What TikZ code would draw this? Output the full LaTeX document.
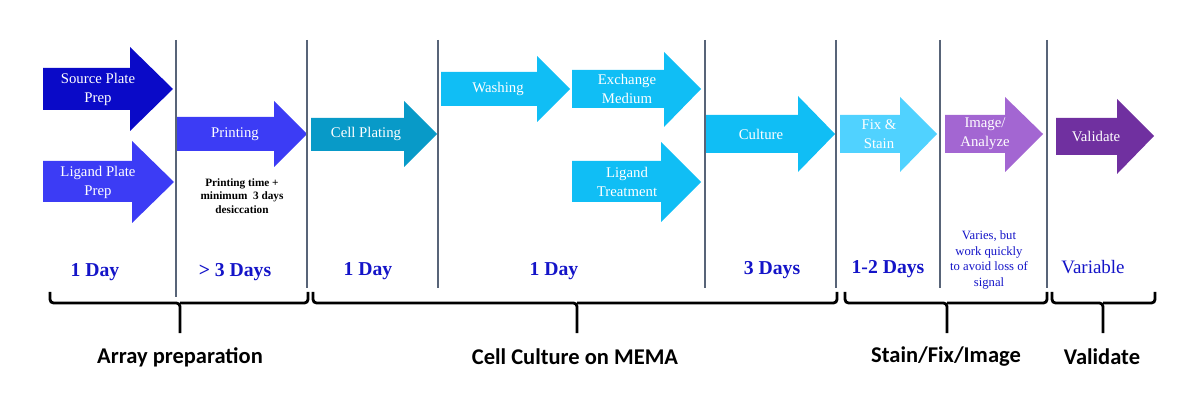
\documentclass[tikz,border=0pt]{standalone}
\usepackage{fontspec}
\setmainfont{Liberation Serif}
\newfontfamily\phasefont{Carlito}
\usetikzlibrary{calc}

\definecolor{srcblue}{RGB}{10,10,200}
\definecolor{ligblue}{RGB}{60,60,245}
\definecolor{plateteal}{RGB}{8,154,200}
\definecolor{washcyan}{RGB}{16,190,245}
\definecolor{fixcyan}{RGB}{80,210,255}
\definecolor{imgpurple}{RGB}{163,102,210}
\definecolor{valpurple}{RGB}{112,48,160}
\definecolor{dayblue}{RGB}{20,20,200}
\definecolor{divgray}{RGB}{88,100,120}

\begin{document}
\begin{tikzpicture}[x=0.025cm,y=-0.025cm,
  steplabel/.style={white,align=center,font=\fontsize{10.5}{13.5}\selectfont},
  daylabel/.style={text=dayblue,font=\bfseries\fontsize{14}{16}\selectfont},
  phaselabel/.style={font=\phasefont\bfseries\fontsize{16}{18}\selectfont},
  divider/.style={draw=divgray,line width=1.2pt},
  bracket/.style={black,line width=2pt,rounded corners=2.5pt}]
\useasboundingbox (0,0) rectangle (1200,418);

%arrow #1 source plate
\fill[srcblue](43,68)--(130,68)--(130,47)--(173,89)--(130,131)--(130,110)--(43,110)--cycle;
\node[steplabel] (src) at (98,89) {Source Plate\\Prep};
%arrow #2 ligand plate
\fill[ligblue](43,161)--(132,161)--(132,141)--(174,182)--(132,223)--(132,202)--(43,202)--cycle;
\node[steplabel] (lig) at (98,182) {Ligand Plate\\Prep};
%arrow #3 printing
\fill[ligblue](177,117)--(274,117)--(274,101)--(307,134)--(274,167)--(274,151)--(177,151)--cycle;
\node[steplabel] (print) at (235,134) {Printing};
\node[align=center,font=\bfseries\fontsize{8}{9.6}\selectfont] (printnote) at (242,196) {Printing time +\\minimum~ 3 days\\desiccation};
%arrow #4 cell plating
\fill[plateteal](311,118)--(404,118)--(404,101)--(437,134)--(404,167)--(404,151)--(311,151)--cycle;
\node[steplabel] (plate) at (366,134) {Cell Plating};
%arrow #5 washing
\fill[washcyan](441,72)--(537,72)--(537,56)--(570,89)--(537,122)--(537,106)--(441,106)--cycle;
\node[steplabel] (wash) at (498,89) {Washing};
%arrow #6 exchange medium
\fill[washcyan](572,70)--(664,70)--(664,52)--(701,89)--(664,127)--(664,108)--(572,108)--cycle;
\node[steplabel] (exch) at (627,89) {Exchange\\Medium};
%arrow #7 ligand treatment
\fill[washcyan](572,161)--(661,161)--(661,142)--(701,182)--(661,222)--(661,202)--(572,202)--cycle;
\node[steplabel] (treat) at (627,182) {Ligand\\Treatment};
%arrow #8 culture
\fill[washcyan](706,115)--(798,115)--(798,96)--(835,134)--(798,172)--(798,153)--(706,153)--cycle;
\node[steplabel] (cult) at (761,134) {Culture};
%arrow #9 fix & stain
\fill[fixcyan](840,115)--(900,115)--(900,97)--(937,134)--(900,172)--(900,153)--(840,153)--cycle;
\node[steplabel] (fix) at (879,134) {Fix \&\\Stain};
%arrow #10 image
\fill[imgpurple](945,115)--(1005,115)--(1005,97)--(1043,134)--(1005,172)--(1005,153)--(945,153)--cycle;
\node[steplabel] (img) at (985,134) {Image/\\Analyze};
%arrow #11 validate
\fill[valpurple](1056,118)--(1117,118)--(1117,99)--(1154,136)--(1117,174)--(1117,155)--(1056,155)--cycle;
\node[steplabel] (val) at (1096,136) {Validate};

%dividers
\draw[divider](176,40)--(176,297);
\foreach \x in {307,438,705,836,940,1047}
  \draw[divider](\x,40)--(\x,288);

%days
\node[daylabel] (d1) at (95,272) {1 Day};
\node[daylabel] (d2) at (235,272) {> 3 Days};
\node[daylabel] (d3) at (368,271) {1 Day};
\node[daylabel] (d4) at (554,271) {1 Day};
\node[daylabel] (d5) at (772,270) {3 Days};
\node[daylabel] (d6) at (888,269) {1-2 Days};
\node[text=dayblue,align=center,font=\fontsize{9}{11}\selectfont] (d7) at (989,260) {Varies, but\\work quickly\\to avoid loss of\\signal};
\node[text=dayblue,font=\fontsize{13.5}{16}\selectfont] (d8) at (1093,267) {Variable};

%brackets
\foreach \a/\t/\b/\n in {50/180/308/b1,313/577/837/b2,845/947/1047/b3,1052/1103/1155/b4}{
  \coordinate (\n) at (\t,333);
  \draw[bracket](\a,292)--(\a,303)--(\t,303)--(\n);
  \draw[bracket](\b,292)--(\b,303)--(\t,303);
}
\node[phaselabel] (arr) at (180,357) {Array preparation};
\node[phaselabel] (cc) at (575,357) {Cell Culture on MEMA};
\node[phaselabel] (sfi) at (946,357) {Stain/Fix/Image};
\node[phaselabel] (vd) at (1102,357) {Validate};
\end{tikzpicture}
\end{document}
